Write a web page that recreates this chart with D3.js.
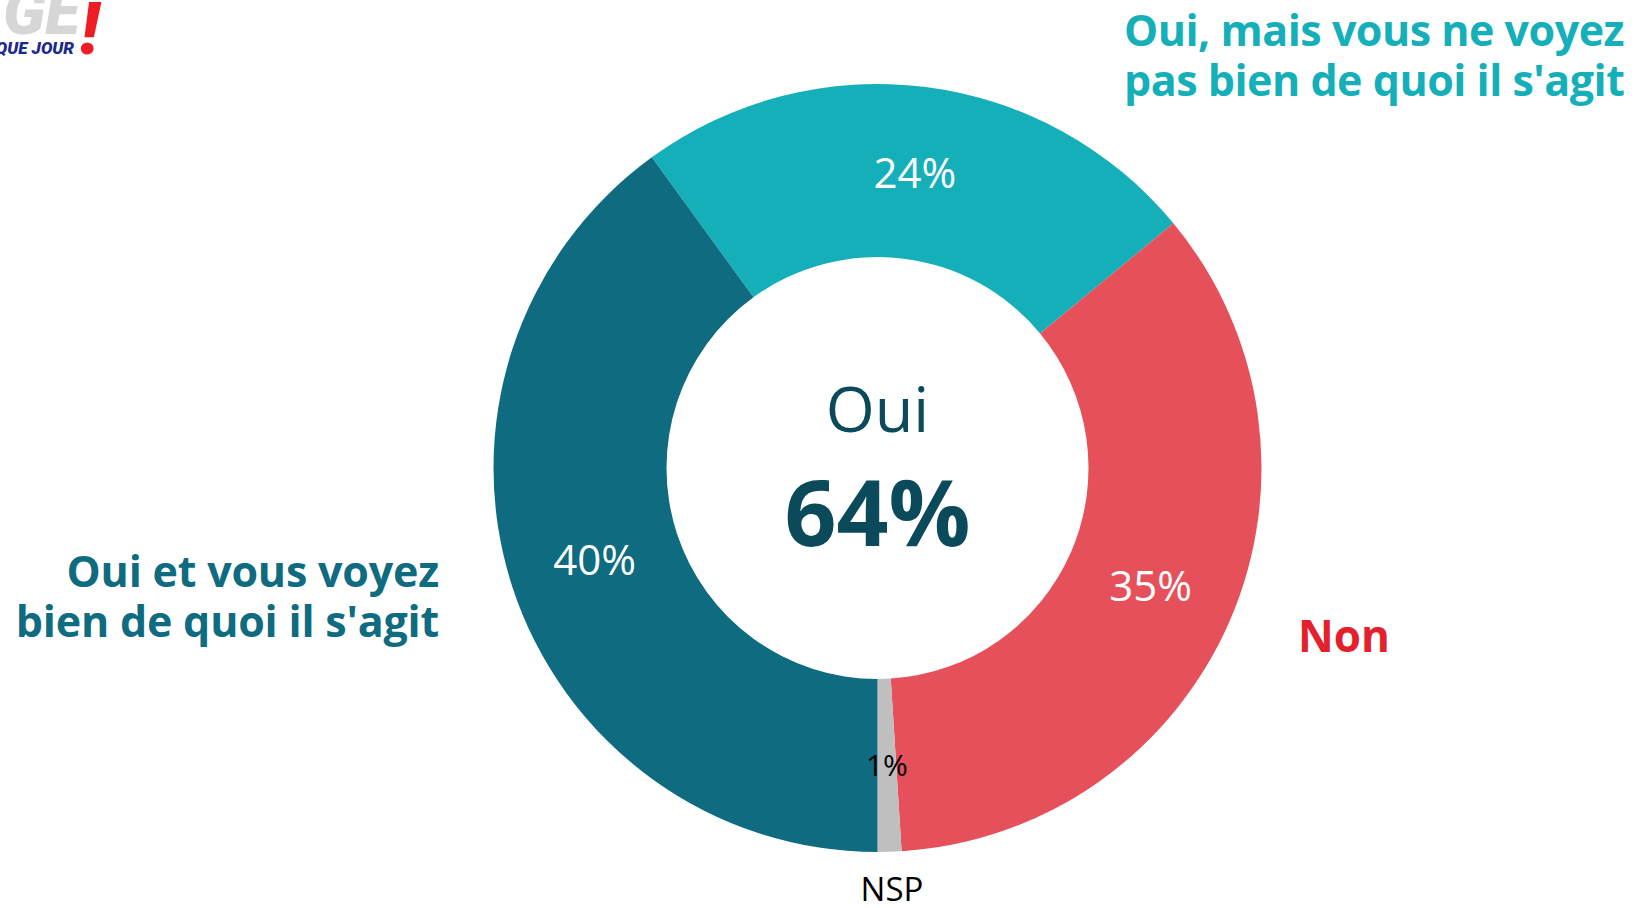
<!DOCTYPE html>
<html>
<head>
<meta charset="utf-8">
<script src="https://cdn.jsdelivr.net/npm/d3@7"></script>
<style>
  html, body { margin: 0; padding: 0; background: #fff; }
  svg { display: block; font-family: "Open Sans", "Noto Sans", sans-serif; }
</style>
</head>
<body>
<div id="chart"></div>
<script>
// --- data
const categories = ["Oui, mais vous ne voyez pas bien de quoi il s'agit", "Non", "NSP", "Oui et vous voyez bien de quoi il s'agit"];
const values = [24, 35, 1, 40];
const sliceColors = ["#14afb8", "#e6505a", "#bfbfbf", "#0f6b80"];
const sliceTextColors = ["#fff", "#fff", "#000", "#fff"];
const centerLabel = "Oui";
const centerValue = "64%";

const W = 1640, H = 908;
const cx = 877.5, cy = 468;
const outerR = 384, innerR = 211;

const svg = d3.select("#chart").append("svg")
  .attr("width", W).attr("height", H);

// --- logo (cropped at top-left corner, as in the source image)
const logo = svg.append("g");
logo.append("text").attr("x", 80).attr("y", 34)
  .attr("text-anchor", "end")
  .style("font-family", "Roboto, sans-serif").style("font-weight", 900).style("font-style", "italic")
  .style("font-size", "64px").attr("fill", "#d6d6d6").text("GE");
logo.append("text").attr("x", 74).attr("y", 54)
  .attr("text-anchor", "end")
  .style("font-family", "Roboto, sans-serif").style("font-weight", 900).style("font-style", "italic")
  .style("font-size", "17px").attr("fill", "#1b2a8c").text("CHAQUE JOUR");
logo.append("text").attr("x", 80).attr("y", 54)
  .style("font-family", "Roboto, sans-serif").style("font-weight", 900).style("font-style", "italic")
  .style("font-size", "72px").attr("fill", "#ee1c25").text("!");

// --- donut
const pie = d3.pie().sort(null).value(d => d)
  .startAngle(-0.2 * Math.PI).endAngle(1.8 * Math.PI);
const arcs = pie(values);
const arc = d3.arc().innerRadius(innerR).outerRadius(outerR);

const g = svg.append("g").attr("transform", `translate(${cx},${cy})`);

g.selectAll("path.slice")
  .data(arcs)
  .enter()
  .append("path")
  .attr("class", "slice")
  .attr("d", arc)
  .attr("fill", (d, i) => sliceColors[i]);

g.selectAll("text.pct")
  .data(arcs)
  .enter()
  .append("text")
  .attr("class", "pct")
  .attr("transform", d => `translate(${arc.centroid(d)})`)
  .attr("text-anchor", "middle")
  .attr("dy", "0.36em")
  .style("font-size", d => d.data < 5 ? "30px" : "42px")
  .attr("fill", (d, i) => sliceTextColors[i])
  .text(d => d.data + "%");

// center text
g.append("text").attr("y", -36).attr("text-anchor", "middle")
  .style("font-size", "63px").attr("fill", "#0b4a5a").text(centerLabel);
g.append("text").attr("y", 78).attr("text-anchor", "middle")
  .style("font-size", "91px").style("font-weight", 700).attr("fill", "#0b4a5a").text(centerValue);

// --- outer labels
function multiLine(x, y, lines, anchor, color, size, weight, lh) {
  const t = svg.append("text").attr("x", x).attr("y", y)
    .attr("text-anchor", anchor)
    .style("font-size", size + "px").style("font-weight", weight)
    .attr("fill", color);
  lines.forEach((l, i) => {
    t.append("tspan").attr("x", x).attr("dy", i === 0 ? 0 : lh).text(l);
  });
  return t;
}

multiLine(1124, 46, ["Oui, mais vous ne voyez", "pas bien de quoi il s'agit"], "start", "#14afb8", 43, 700, 50)
  .style("letter-spacing", "-0.5px");
multiLine(439, 587, ["Oui et vous voyez", "bien de quoi il s'agit"], "end", "#0f6b80", 43, 700, 50)
  .style("letter-spacing", "-0.2px");
multiLine(1298, 652, ["Non"], "start", "#e3202b", 44, 700, 50);
multiLine(892, 901, ["NSP"], "middle", "#000", 33, 400, 40);
</script>
</body>
</html>
